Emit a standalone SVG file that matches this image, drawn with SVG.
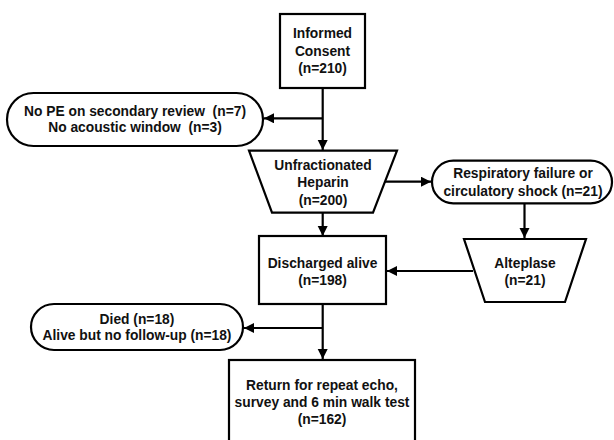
<svg xmlns="http://www.w3.org/2000/svg" width="614" height="440" viewBox="0 0 614 440">
<style>
.s{fill:#fff;stroke:#000;stroke-width:2.2}
.t{font-family:"Liberation Sans",Arial,sans-serif;font-weight:bold;font-size:13.8px;fill:#111;text-anchor:middle}
.c{fill:none;stroke:#000;stroke-width:2.2}
</style>
<defs>
<marker id="a" markerUnits="userSpaceOnUse" markerWidth="12" markerHeight="12" refX="10" refY="5" orient="auto">
<path d="M0,0 L10,5 L0,10 Z" fill="#000"/>
</marker>
</defs>
<rect width="614" height="440" fill="#fff"/>
<g id="connectors">
<line class="c" x1="322.7" y1="88" x2="322.7" y2="150" marker-end="url(#a)"/>
<line class="c" x1="322.7" y1="118.3" x2="264" y2="118.3" marker-end="url(#a)"/>
<line class="c" x1="385" y1="181.7" x2="431" y2="181.7" marker-end="url(#a)"/>
<line class="c" x1="322.7" y1="212.7" x2="322.7" y2="236" marker-end="url(#a)"/>
<line class="c" x1="524.5" y1="203.3" x2="524.5" y2="238" marker-end="url(#a)"/>
<line class="c" x1="473" y1="271" x2="387" y2="271" marker-end="url(#a)"/>
<line class="c" x1="322.7" y1="304" x2="322.7" y2="359" marker-end="url(#a)"/>
<line class="c" x1="322.7" y1="328" x2="244" y2="328" marker-end="url(#a)"/>
</g>
<g id="consent">
<rect class="s" x="280" y="14" width="85" height="74"/>
<text class="t" x="322.5" y="38">Informed</text>
<text class="t" x="322.5" y="56">Consent</text>
<text class="t" x="322.5" y="73">(n=210)</text>
</g>
<g id="excluded1">
<rect class="s" x="7" y="93" width="256" height="53" rx="26.5"/>
<text class="t" x="135" y="116" xml:space="preserve">No PE on secondary review  (n=7)</text>
<text class="t" x="135" y="132" xml:space="preserve">No acoustic window  (n=3)</text>
</g>
<g id="heparin">
<polygon class="s" points="249,150.7 397,150.7 373,212.7 272,212.7"/>
<text class="t" x="323" y="170">Unfractionated</text>
<text class="t" x="323" y="187">Heparin</text>
<text class="t" x="323" y="205">(n=200)</text>
</g>
<g id="failure">
<rect class="s" x="432" y="160.7" width="180" height="42.6" rx="21.3"/>
<text class="t" x="523" y="178">Respiratory failure or</text>
<text class="t" x="523" y="196">circulatory shock (n=21)</text>
</g>
<g id="discharged">
<rect class="s" x="259" y="236" width="127" height="68"/>
<text class="t" x="322.5" y="268">Discharged alive</text>
<text class="t" x="322.5" y="285">(n=198)</text>
</g>
<g id="alteplase">
<polygon class="s" points="464,239 586,239 565,302 485,302"/>
<text class="t" x="525" y="268">Alteplase</text>
<text class="t" x="525" y="285">(n=21)</text>
</g>
<g id="excluded2">
<rect class="s" x="31" y="304" width="212" height="46" rx="23"/>
<text class="t" x="137" y="324">Died (n=18)</text>
<text class="t" x="137" y="340">Alive but no follow-up (n=18)</text>
</g>
<g id="followup">
<rect class="s" x="229" y="360" width="186" height="84"/>
<text class="t" x="322" y="390">Return for repeat echo,</text>
<text class="t" x="322" y="407">survey and 6 min walk test</text>
<text class="t" x="322" y="424">(n=162)</text>
</g>
</svg>
